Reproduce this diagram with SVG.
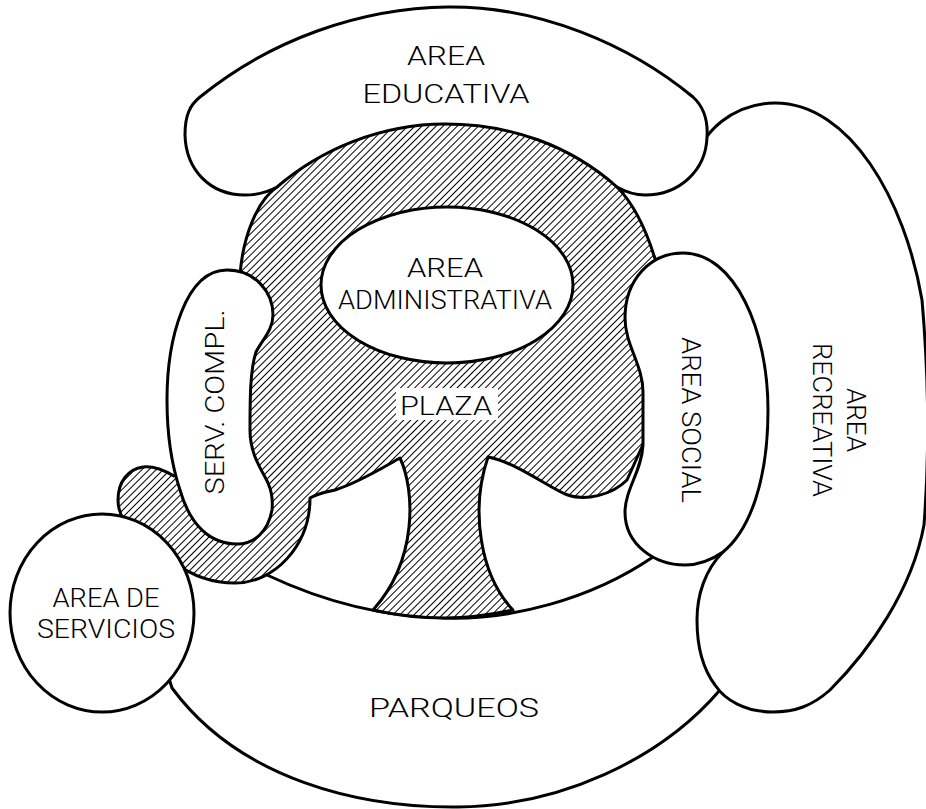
<svg xmlns="http://www.w3.org/2000/svg" width="926" height="809" viewBox="0 0 926 809">
<defs>
<pattern id="hatch" width="5" height="5" patternUnits="userSpaceOnUse" patternTransform="rotate(45)">
<rect width="5" height="5" fill="#fff"/>
<line x1="2.5" y1="-1" x2="2.5" y2="6" stroke="#000" stroke-width="1"/>
</pattern>
</defs>
<style>
.b{fill:#fff;stroke:#000;stroke-width:3;stroke-linejoin:round}
.h{fill:url(#hatch);stroke:#000;stroke-width:3;stroke-linejoin:round}
text{font-family:Roboto,"Liberation Sans",sans-serif;font-weight:300;font-size:25px;fill:#000;text-anchor:middle}
</style>
<rect width="926" height="809" fill="#fff"/>
<g id="parqueos">
<path class="b" d="M160,650 L172,688 C240,780 360,808 458,807 C560,806 660,760 720,690 L760,650 L740,560 L700,540 L653,557 C590,600 510,620 445,618 C380,617 320,600 267,575 L240,575 L185,560 L150,600 Z"/>
<text x="454" y="717" font-size="30" textLength="170" lengthAdjust="spacingAndGlyphs">PARQUEOS</text>
</g>
<g id="area-recreativa">
<path class="b" d="M692,170 C700,130 735,103 775,103 C850,103 905,200 922,300 C929,380 929,460 924,525 C912,590 870,650 830,690 C812,706 795,712 773,712 C745,712 725,700 715,685 C700,665 697,640 697,620 C697,595 705,570 723,552 L700,450 L660,300 L640,250 L620,195 L640,175 Z"/>
<text transform="translate(847,420) rotate(90)" textLength="64" lengthAdjust="spacingAndGlyphs">AREA</text>
<text transform="translate(813,420) rotate(90)" textLength="154" lengthAdjust="spacingAndGlyphs">RECREATIVA</text>
</g>
<g id="plaza">
<path class="h" d="M277,187 C258,200 243,235 240,275 L222,300 L190,420 L185,465 L174,476 C162,469 152,466 143,467 C128,469 118,482 118,500 C118,508 120,514 124,520 L150,548 L175,563 C195,578 215,583 235,583 C275,583 310,545 310,498 C318,493 326,492 335,490 C360,482 382,468 400,458 C415,490 418,560 373,610 C395,615 420,618 445,618 C470,618 495,614 513,610 C480,575 470,510 488,457 C515,462 545,485 565,494 C585,502 612,495 627,480 L645,440 L665,300 L656,262 C648,235 635,205 617,187 L640,150 L445,110 L250,150 Z"/>
<rect x="396" y="388" width="102" height="32" fill="#fff"/>
<text x="446" y="415" font-size="28" textLength="92" lengthAdjust="spacingAndGlyphs">PLAZA</text>
</g>
<g id="area-de-servicios">
<ellipse class="b" cx="102" cy="613" rx="92" ry="99"/>
<text x="106" y="607" textLength="107" lengthAdjust="spacingAndGlyphs">AREA DE</text>
<text x="106" y="638" textLength="138" lengthAdjust="spacingAndGlyphs">SERVICIOS</text>
</g>
<g id="serv-compl">
<path class="b" d="M227,270 C255,270 273,292 273,315 C273,330 262,340 256,352 C250,370 250,400 250,430 C250,455 262,470 268,483 C272,492 273,500 272,510 C268,532 254,544 237,544 C210,544 190,525 180,490 C170,460 167,430 167,400 C167,340 185,270 227,270 Z"/>
<text transform="translate(224,402) rotate(-90)" font-size="27" textLength="185" lengthAdjust="spacingAndGlyphs">SERV. COMPL.</text>
</g>
<g id="area-social">
<path class="b" d="M683,253 C735,253 768,330 768,410 C768,480 750,530 723,552 C710,561 697,565 685,565 C655,565 625,545 625,512 C625,490 642,470 643,445 L643,392 C643,365 625,345 625,318 C625,280 650,253 683,253 Z"/>
<text transform="translate(682,420) rotate(90)" textLength="166" lengthAdjust="spacingAndGlyphs">AREA SOCIAL</text>
</g>
<g id="area-educativa">
<path class="b" d="M185,135 C185,115 190,105 200,97 C270,40 360,8 448,7 C540,6 630,45 693,97 C705,108 708,122 707,137 C706,170 680,195 645,195 C632,195 624,191 617,187 C570,145 510,124 445,124 C380,124 320,150 277,187 C268,192 258,195 245,195 C210,195 186,170 185,135 Z"/>
<text x="446" y="65" font-size="30" textLength="78" lengthAdjust="spacingAndGlyphs">AREA</text>
<text x="446" y="103" font-size="30" textLength="167" lengthAdjust="spacingAndGlyphs">EDUCATIVA</text>
</g>
<g id="area-administrativa">
<ellipse class="b" cx="447" cy="285" rx="126" ry="78"/>
<text x="445" y="277" textLength="76" lengthAdjust="spacingAndGlyphs">AREA</text>
<text x="445" y="309" textLength="214" lengthAdjust="spacingAndGlyphs">ADMINISTRATIVA</text>
</g>
<g id="connectors"/>
</svg>
